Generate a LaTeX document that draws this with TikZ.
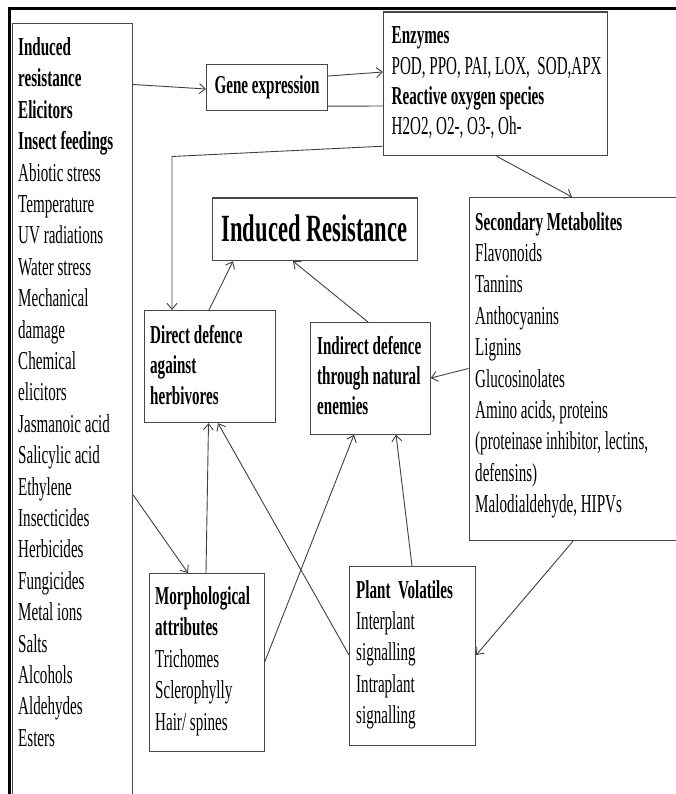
\documentclass[tikz,border=0pt]{standalone}
\usepackage{fontspec}
\setmainfont{Liberation Serif}[FakeStretch=0.585]
\usetikzlibrary{arrows.meta}
\definecolor{boxline}{gray}{0.28}
\definecolor{arrline}{gray}{0.25}
\newcommand{\mylines}[1]{\begin{tabular}[t]{@{}l@{}}#1\end{tabular}}
\tikzset{
  box/.style={draw=boxline, line width=1.2pt, inner sep=0pt, anchor=north west},
  txt/.style={inner sep=0pt, anchor=base west, font=\fontsize{25.8}{31.4}\selectfont},
  conn/.style={draw=arrline, line width=0.9pt},
  arr/.style={conn, -{Straight Barb[length=6pt,width=10pt,line width=0.9pt]}},
  frameline/.style={draw=black, line width=3pt}
}
\begin{document}
\begin{tikzpicture}[x=1pt,y=-1pt]
\useasboundingbox (0,0) rectangle (675,794);
% outer frame
\coordinate (fTR) at (676,8.5);
\coordinate (fTL) at (9,8.5);
\coordinate (fBL) at (9,800);
\draw[frameline] (fTR) -- (fTL) -- (fBL);

% boxes
\node[box, minimum width=120.5pt, minimum height=777pt] (left) at (11.5,23) {};
\node[box, minimum width=121pt, minimum height=46pt] (gene) at (206,64) {};
\node[box, minimum width=223.5pt, minimum height=143.5pt] (enz) at (383,11.5) {};
\node[box, minimum width=205pt, minimum height=62.5pt] (ir) at (211.5,197.5) {};
\node[box, minimum width=131.5pt, minimum height=112pt] (direct) at (143.5,310) {};
\node[box, minimum width=119.5pt, minimum height=111.5pt] (indirect) at (310,322) {};
\node[box, minimum width=215pt, minimum height=343pt] (sec) at (468.5,197) {};
\node[box, minimum width=115pt, minimum height=178pt] (morph) at (148.5,573) {};
\node[box, minimum width=126pt, minimum height=178.5pt] (plant) at (349,566) {};

% texts
\node[txt] (leftT) at (18,55.5) {\mylines{\textbf{Induced}\\\textbf{resistance}\\\textbf{Elicitors}\\\textbf{Insect feedings}\\Abiotic stress\\Temperature\\UV radiations\\Water stress\\Mechanical\\damage\\Chemical\\elicitors\\Jasmanoic acid\\Salicylic acid\\Ethylene\\Insecticides\\Herbicides\\Fungicides\\Metal ions\\Salts\\Alcohols\\Aldehydes\\Esters}};
\node[inner sep=0pt, font=\fontsize{25.8}{30}\selectfont\bfseries] (geneT) at (gene.center) {Gene expression};
\node[txt, font=\fontsize{25.8}{30.2}\selectfont] (enzT) at (391.5,44) {\mylines{\textbf{Enzymes}\\POD, PPO, PAI, LOX,\ \ SOD,APX\\\textbf{Reactive oxygen species}\\H2O2, O2-, O3-, Oh-}};
\node[inner sep=0pt, font=\fontsize{38.5}{40}\selectfont\bfseries] (irT) at ([yshift=1pt]ir.center) {Induced Resistance};
\node[txt, font=\fontsize{25.8}{30.5}\selectfont\bfseries] (directT) at (150,343) {\mylines{Direct defence\\against\\herbivores}};
\node[txt, font=\fontsize{25.8}{30}\selectfont\bfseries] (indirectT) at (317,354.5) {\mylines{Indirect defence\\through natural\\enemies}};
\node[txt] (secT) at (475,230) {\mylines{\textbf{Secondary Metabolites}\\Flavonoids\\Tannins\\Anthocyanins\\Lignins\\Glucosinolates\\Amino acids, proteins\\(proteinase inhibitor, lectins,\\defensins)\\Malodialdehyde, HIPVs}};
\node[txt] (morphT) at (155,604.5) {\mylines{\textbf{Morphological}\\\textbf{attributes}\\Trichomes\\Sclerophylly\\Hair/ spines}};
\node[txt] (plantT) at (356,598) {\mylines{\textbf{Plant\ \ Volatiles}\\Interplant\\signalling\\Intraplant\\signalling}};

% connectors
\draw[arr] ([yshift=-61.5pt]left.north east) -- ([yshift=-25pt]gene.north west);
\draw[arr] ([yshift=-12pt]gene.north east) -- ([yshift=-60.5pt]enz.north west);
\draw[conn] ([yshift=5pt]gene.south east) -- ([yshift=-94.5pt]enz.north west);
\coordinate (bendA) at (172,156.5);
\draw[arr] ([yshift=10pt]enz.south west) -- (bendA) -- (bendA |- direct.north);
\draw[arr] ([xshift=65.5pt]direct.north west) -- ([xshift=21.5pt]ir.south west);
\draw[arr] ([xshift=58pt]indirect.north west) -- ([xshift=81.5pt]ir.south west);
\draw[arr] ([xshift=113.5pt]enz.south west) -- ([xshift=103.5pt]sec.north west);
\draw[arr] ([yshift=-171.5pt]sec.north west) -- ([yshift=-56pt]indirect.north east);
\draw[arr] ([xshift=104.5pt]sec.south west) -- ([yshift=-89pt]plant.north east);
\draw[arr] ([xshift=63pt]plant.north west) -- ([xshift=86pt]indirect.south west);
\draw[arr] ([yshift=-472pt]left.north east) -- ([xshift=39.5pt]morph.north west);
\draw[arr] ([xshift=57.5pt]morph.north west) -- ([xshift=65pt]direct.south west);
\draw[arr] ([yshift=-89pt]plant.north west) -- ([xshift=74.5pt]direct.south west);
\draw[arr] ([yshift=-89pt]morph.north east) -- ([xshift=44pt]indirect.south west);
\end{tikzpicture}
\end{document}
